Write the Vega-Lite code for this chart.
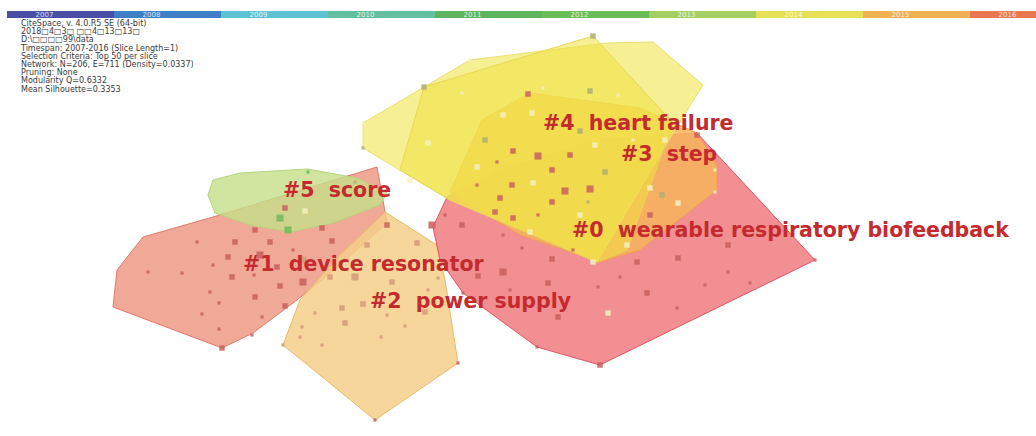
{
  "$schema": "https://vega.github.io/schema/vega-lite/v6.json",
  "width": 1036,
  "height": 436,
  "autosize": {"type": "none"},
  "padding": 0,
  "background": "white",
  "config": {"view": {"stroke": null}},
  "datasets": {
    "polys": [
      {"c": "c1", "i": 0, "x": 377, "y": 167}, {"c": "c1", "i": 1, "x": 387, "y": 223}, {"c": "c1", "i": 2, "x": 340, "y": 265}, {"c": "c1", "i": 3, "x": 297, "y": 300}, {"c": "c1", "i": 4, "x": 253, "y": 333}, {"c": "c1", "i": 5, "x": 222, "y": 348}, {"c": "c1", "i": 6, "x": 113, "y": 307}, {"c": "c1", "i": 7, "x": 117, "y": 270}, {"c": "c1", "i": 8, "x": 143, "y": 237}, {"c": "c1", "i": 9, "x": 213, "y": 217}, {"c": "c1", "i": 10, "x": 377, "y": 167},
      {"c": "c2", "i": 0, "x": 385, "y": 212}, {"c": "c2", "i": 1, "x": 437, "y": 245}, {"c": "c2", "i": 2, "x": 445, "y": 280}, {"c": "c2", "i": 3, "x": 458, "y": 363}, {"c": "c2", "i": 4, "x": 375, "y": 420}, {"c": "c2", "i": 5, "x": 283, "y": 345}, {"c": "c2", "i": 6, "x": 300, "y": 300}, {"c": "c2", "i": 7, "x": 340, "y": 255}, {"c": "c2", "i": 8, "x": 385, "y": 212},
      {"c": "c5", "i": 0, "x": 213, "y": 180}, {"c": "c5", "i": 1, "x": 240, "y": 173}, {"c": "c5", "i": 2, "x": 307, "y": 169}, {"c": "c5", "i": 3, "x": 357, "y": 178}, {"c": "c5", "i": 4, "x": 387, "y": 193}, {"c": "c5", "i": 5, "x": 380, "y": 205}, {"c": "c5", "i": 6, "x": 333, "y": 223}, {"c": "c5", "i": 7, "x": 290, "y": 232}, {"c": "c5", "i": 8, "x": 250, "y": 225}, {"c": "c5", "i": 9, "x": 215, "y": 213}, {"c": "c5", "i": 10, "x": 208, "y": 195}, {"c": "c5", "i": 11, "x": 213, "y": 180},
      {"c": "c0", "i": 0, "x": 447, "y": 197}, {"c": "c0", "i": 1, "x": 433, "y": 227}, {"c": "c0", "i": 2, "x": 440, "y": 260}, {"c": "c0", "i": 3, "x": 463, "y": 293}, {"c": "c0", "i": 4, "x": 537, "y": 347}, {"c": "c0", "i": 5, "x": 600, "y": 365}, {"c": "c0", "i": 6, "x": 815, "y": 260}, {"c": "c0", "i": 7, "x": 697, "y": 133}, {"c": "c0", "i": 8, "x": 600, "y": 140}, {"c": "c0", "i": 9, "x": 500, "y": 170}, {"c": "c0", "i": 10, "x": 447, "y": 197},
      {"c": "c3", "i": 0, "x": 530, "y": 93}, {"c": "c3", "i": 1, "x": 482, "y": 120}, {"c": "c3", "i": 2, "x": 450, "y": 192}, {"c": "c3", "i": 3, "x": 520, "y": 235}, {"c": "c3", "i": 4, "x": 600, "y": 262}, {"c": "c3", "i": 5, "x": 640, "y": 250}, {"c": "c3", "i": 6, "x": 717, "y": 190}, {"c": "c3", "i": 7, "x": 717, "y": 165}, {"c": "c3", "i": 8, "x": 697, "y": 133}, {"c": "c3", "i": 9, "x": 640, "y": 108}, {"c": "c3", "i": 10, "x": 530, "y": 93},
      {"c": "c4a", "i": 0, "x": 363, "y": 123}, {"c": "c4a", "i": 1, "x": 470, "y": 60}, {"c": "c4a", "i": 2, "x": 607, "y": 43}, {"c": "c4a", "i": 3, "x": 653, "y": 42}, {"c": "c4a", "i": 4, "x": 703, "y": 85}, {"c": "c4a", "i": 5, "x": 672, "y": 135}, {"c": "c4a", "i": 6, "x": 597, "y": 262}, {"c": "c4a", "i": 7, "x": 450, "y": 200}, {"c": "c4a", "i": 8, "x": 363, "y": 148}, {"c": "c4a", "i": 9, "x": 363, "y": 123},
      {"c": "c4b", "i": 0, "x": 424, "y": 87}, {"c": "c4b", "i": 1, "x": 593, "y": 36}, {"c": "c4b", "i": 2, "x": 673, "y": 123}, {"c": "c4b", "i": 3, "x": 627, "y": 250}, {"c": "c4b", "i": 4, "x": 597, "y": 262}, {"c": "c4b", "i": 5, "x": 450, "y": 200}, {"c": "c4b", "i": 6, "x": 400, "y": 170}, {"c": "c4b", "i": 7, "x": 424, "y": 87}
    ],
    "nodes": [
      {"x": 308, "y": 172, "yr": "2012", "s": 1}, {"x": 355, "y": 182, "yr": "2013", "s": 1}, {"x": 285, "y": 208, "yr": "2016", "s": 2}, {"x": 305, "y": 211, "yr": "2014", "s": 2}, {"x": 280, "y": 218, "yr": "2012", "s": 3}, {"x": 288, "y": 230, "yr": "2012", "s": 3},
      {"x": 255, "y": 230, "yr": "2016", "s": 2}, {"x": 235, "y": 242, "yr": "2016", "s": 2}, {"x": 270, "y": 242, "yr": "2016", "s": 2}, {"x": 197, "y": 242, "yr": "2016", "s": 1}, {"x": 322, "y": 228, "yr": "2016", "s": 2}, {"x": 332, "y": 241, "yr": "2016", "s": 2}, {"x": 260, "y": 255, "yr": "2016", "s": 3}, {"x": 293, "y": 250, "yr": "2016", "s": 1}, {"x": 228, "y": 257, "yr": "2016", "s": 2}, {"x": 213, "y": 265, "yr": "2016", "s": 1}, {"x": 277, "y": 267, "yr": "2016", "s": 2}, {"x": 254, "y": 275, "yr": "2016", "s": 1}, {"x": 232, "y": 277, "yr": "2016", "s": 2}, {"x": 303, "y": 260, "yr": "2015", "s": 3}, {"x": 303, "y": 282, "yr": "2016", "s": 3}, {"x": 280, "y": 286, "yr": "2016", "s": 2}, {"x": 148, "y": 272, "yr": "2016", "s": 1}, {"x": 182, "y": 273, "yr": "2016", "s": 1}, {"x": 210, "y": 292, "yr": "2016", "s": 1}, {"x": 255, "y": 297, "yr": "2016", "s": 2}, {"x": 219, "y": 303, "yr": "2016", "s": 1}, {"x": 285, "y": 306, "yr": "2016", "s": 2}, {"x": 202, "y": 314, "yr": "2016", "s": 1}, {"x": 262, "y": 317, "yr": "2016", "s": 1}, {"x": 219, "y": 329, "yr": "2016", "s": 1}, {"x": 222, "y": 348, "yr": "2016", "s": 2}, {"x": 252, "y": 335, "yr": "2016", "s": 1},
      {"x": 387, "y": 225, "yr": "2016", "s": 2}, {"x": 367, "y": 245, "yr": "2015", "s": 2}, {"x": 330, "y": 277, "yr": "2015", "s": 2}, {"x": 355, "y": 277, "yr": "2015", "s": 3}, {"x": 342, "y": 308, "yr": "2015", "s": 2}, {"x": 315, "y": 313, "yr": "2015", "s": 1}, {"x": 345, "y": 323, "yr": "2015", "s": 2}, {"x": 363, "y": 304, "yr": "2015", "s": 2}, {"x": 322, "y": 345, "yr": "2015", "s": 1}, {"x": 300, "y": 337, "yr": "2015", "s": 1}, {"x": 417, "y": 243, "yr": "2015", "s": 2}, {"x": 392, "y": 282, "yr": "2015", "s": 2}, {"x": 438, "y": 278, "yr": "2015", "s": 1}, {"x": 428, "y": 290, "yr": "2015", "s": 1}, {"x": 425, "y": 312, "yr": "2015", "s": 2}, {"x": 387, "y": 315, "yr": "2015", "s": 1}, {"x": 405, "y": 326, "yr": "2015", "s": 1}, {"x": 381, "y": 337, "yr": "2015", "s": 1}, {"x": 302, "y": 327, "yr": "2015", "s": 1}, {"x": 458, "y": 363, "yr": "2016", "s": 1}, {"x": 375, "y": 420, "yr": "2016", "s": 1}, {"x": 283, "y": 345, "yr": "2015", "s": 1},
      {"x": 432, "y": 225, "yr": "2016", "s": 3}, {"x": 462, "y": 225, "yr": "2016", "s": 2}, {"x": 445, "y": 215, "yr": "2016", "s": 1}, {"x": 503, "y": 235, "yr": "2016", "s": 1}, {"x": 522, "y": 248, "yr": "2016", "s": 1}, {"x": 573, "y": 250, "yr": "2016", "s": 1}, {"x": 552, "y": 259, "yr": "2016", "s": 2}, {"x": 478, "y": 276, "yr": "2016", "s": 2}, {"x": 503, "y": 272, "yr": "2016", "s": 3}, {"x": 548, "y": 283, "yr": "2016", "s": 2}, {"x": 510, "y": 290, "yr": "2016", "s": 1}, {"x": 558, "y": 317, "yr": "2016", "s": 2}, {"x": 598, "y": 287, "yr": "2016", "s": 1}, {"x": 620, "y": 277, "yr": "2016", "s": 1}, {"x": 637, "y": 262, "yr": "2016", "s": 2}, {"x": 647, "y": 293, "yr": "2016", "s": 2}, {"x": 678, "y": 258, "yr": "2016", "s": 2}, {"x": 677, "y": 308, "yr": "2016", "s": 1}, {"x": 705, "y": 285, "yr": "2016", "s": 1}, {"x": 728, "y": 245, "yr": "2016", "s": 2}, {"x": 728, "y": 272, "yr": "2016", "s": 1}, {"x": 750, "y": 283, "yr": "2016", "s": 1}, {"x": 608, "y": 313, "yr": "2014", "s": 2}, {"x": 537, "y": 347, "yr": "2016", "s": 1}, {"x": 600, "y": 365, "yr": "2016", "s": 2}, {"x": 815, "y": 260, "yr": "2016", "s": 1}, {"x": 463, "y": 293, "yr": "2016", "s": 1}, {"x": 593, "y": 262, "yr": "2014", "s": 2}, {"x": 627, "y": 245, "yr": "2014", "s": 2}, {"x": 530, "y": 232, "yr": "2014", "s": 2},
      {"x": 497, "y": 162, "yr": "2016", "s": 1}, {"x": 538, "y": 156, "yr": "2016", "s": 3}, {"x": 570, "y": 155, "yr": "2016", "s": 2}, {"x": 552, "y": 170, "yr": "2016", "s": 2}, {"x": 605, "y": 172, "yr": "2013", "s": 2}, {"x": 477, "y": 185, "yr": "2016", "s": 1}, {"x": 512, "y": 185, "yr": "2016", "s": 2}, {"x": 533, "y": 183, "yr": "2014", "s": 2}, {"x": 565, "y": 191, "yr": "2016", "s": 3}, {"x": 590, "y": 189, "yr": "2016", "s": 3}, {"x": 500, "y": 198, "yr": "2016", "s": 2}, {"x": 552, "y": 202, "yr": "2016", "s": 2}, {"x": 588, "y": 202, "yr": "2013", "s": 1}, {"x": 495, "y": 212, "yr": "2016", "s": 2}, {"x": 513, "y": 218, "yr": "2016", "s": 2}, {"x": 538, "y": 215, "yr": "2016", "s": 1}, {"x": 580, "y": 215, "yr": "2014", "s": 2}, {"x": 650, "y": 215, "yr": "2016", "s": 2}, {"x": 662, "y": 195, "yr": "2013", "s": 2}, {"x": 678, "y": 203, "yr": "2014", "s": 2}, {"x": 650, "y": 188, "yr": "2014", "s": 2}, {"x": 715, "y": 192, "yr": "2014", "s": 1}, {"x": 715, "y": 170, "yr": "2014", "s": 1},
      {"x": 593, "y": 36, "yr": "2013", "s": 2}, {"x": 470, "y": 60, "yr": "2014", "s": 1}, {"x": 424, "y": 87, "yr": "2013", "s": 2}, {"x": 363, "y": 123, "yr": "2014", "s": 1}, {"x": 363, "y": 148, "yr": "2013", "s": 1}, {"x": 528, "y": 94, "yr": "2016", "s": 2}, {"x": 590, "y": 91, "yr": "2013", "s": 2}, {"x": 618, "y": 95, "yr": "2014", "s": 1}, {"x": 462, "y": 93, "yr": "2014", "s": 1}, {"x": 543, "y": 88, "yr": "2014", "s": 1}, {"x": 503, "y": 115, "yr": "2014", "s": 2}, {"x": 532, "y": 113, "yr": "2014", "s": 2}, {"x": 580, "y": 131, "yr": "2013", "s": 2}, {"x": 485, "y": 140, "yr": "2013", "s": 2}, {"x": 513, "y": 151, "yr": "2016", "s": 2}, {"x": 595, "y": 145, "yr": "2014", "s": 2}, {"x": 477, "y": 167, "yr": "2014", "s": 2}, {"x": 428, "y": 143, "yr": "2014", "s": 2}, {"x": 633, "y": 140, "yr": "2014", "s": 1}, {"x": 665, "y": 140, "yr": "2014", "s": 2}, {"x": 697, "y": 135, "yr": "2016", "s": 2}, {"x": 410, "y": 180, "yr": "2014", "s": 2}, {"x": 693, "y": 95, "yr": "2014", "s": 1}
    ],
    "labels": [
      {"t": "#4\u00a0 heart failure", "x": 543, "y": 124},
      {"t": "#3\u00a0 step", "x": 621, "y": 155},
      {"t": "#0\u00a0 wearable respiratory biofeedback", "x": 572, "y": 231},
      {"t": "#5\u00a0 score", "x": 283, "y": 191},
      {"t": "#1\u00a0 device resonator", "x": 243, "y": 265},
      {"t": "#2\u00a0 power supply", "x": 370, "y": 302}
    ],
    "info": [
      {"t": "CiteSpace, v. 4.0.R5 SE (64-bit)\n2018□4□3□ □□4□13□13□\nD:\\□□□□99\\data\nTimespan: 2007-2016 (Slice Length=1)\nSelection Criteria: Top 50 per slice\nNetwork: N=206, E=711 (Density=0.0337)\nPruning: None\nModularity Q=0.6332\nMean Silhouette=0.3353", "x": 21, "y": 20}
    ],
    "years": [
      {"year": "2007"}, {"year": "2008"}, {"year": "2009"}, {"year": "2010"}, {"year": "2011"},
      {"year": "2012"}, {"year": "2013"}, {"year": "2014"}, {"year": "2015"}, {"year": "2016"}
    ]
  },
  "layer": [
    {
      "encoding": {
        "x": {"field": "x", "type": "quantitative", "scale": {"domain": [0, 1036], "nice": false, "zero": false}, "axis": null},
        "y": {"field": "y", "type": "quantitative", "scale": {"domain": [0, 436], "nice": false, "zero": false, "reverse": true}, "axis": null}
      },
      "layer": [
        {"data": {"name": "polys"}, "transform": [{"filter": "datum.c === 'c1'"}], "mark": {"type": "line", "fill": "#f0a08c", "fillOpacity": 0.9, "stroke": "#e07a68", "strokeWidth": 1}, "encoding": {"order": {"field": "i", "type": "quantitative"}}},
        {"data": {"name": "polys"}, "transform": [{"filter": "datum.c === 'c2'"}], "mark": {"type": "line", "fill": "#f5cf88", "fillOpacity": 0.85, "stroke": "#e8bb6a", "strokeWidth": 1}, "encoding": {"order": {"field": "i", "type": "quantitative"}}},
        {"data": {"name": "polys"}, "transform": [{"filter": "datum.c === 'c5'"}], "mark": {"type": "line", "fill": "#c5df88", "fillOpacity": 0.8, "stroke": "#b4d47a", "strokeWidth": 1}, "encoding": {"order": {"field": "i", "type": "quantitative"}}},
        {"data": {"name": "polys"}, "transform": [{"filter": "datum.c === 'c0'"}], "mark": {"type": "line", "fill": "#ee7b80", "fillOpacity": 0.85, "stroke": "#e05565", "strokeWidth": 1}, "encoding": {"order": {"field": "i", "type": "quantitative"}}},
        {"data": {"name": "polys"}, "transform": [{"filter": "datum.c === 'c3'"}], "mark": {"type": "line", "fill": "#f6b45a", "fillOpacity": 0.85, "stroke": "#f0a050", "strokeWidth": 1}, "encoding": {"order": {"field": "i", "type": "quantitative"}}},
        {"data": {"name": "polys"}, "transform": [{"filter": "datum.c === 'c4a'"}], "mark": {"type": "line", "fill": "#f1e65a", "fillOpacity": 0.65, "stroke": "#e8e070", "strokeWidth": 1}, "encoding": {"order": {"field": "i", "type": "quantitative"}}},
        {"data": {"name": "polys"}, "transform": [{"filter": "datum.c === 'c4b'"}], "mark": {"type": "line", "fill": "#f0e040", "fillOpacity": 0.55, "stroke": "#e8d850", "strokeWidth": 1}, "encoding": {"order": {"field": "i", "type": "quantitative"}}},
        {
          "data": {"name": "nodes"},
          "mark": {"type": "point", "shape": "square", "filled": true, "opacity": 0.85},
          "encoding": {
            "color": {"field": "yr", "type": "nominal", "legend": null, "scale": {"domain": ["2012", "2013", "2014", "2015", "2016"], "range": ["#72b85c", "#aeae72", "#f6f0c0", "#d49a7a", "#c9605e"]}},
            "size": {"field": "s", "type": "quantitative", "legend": null, "scale": {"domain": [1, 3], "range": [10, 50]}}
          }
        },
        {
          "data": {"name": "labels"},
          "mark": {"type": "text", "align": "left", "baseline": "middle", "font": "DejaVu Sans", "fontWeight": "bold", "fontSize": 20.5, "color": "#c42a2e"},
          "encoding": {"text": {"field": "t", "type": "nominal"}}
        },
        {
          "data": {"name": "info"},
          "mark": {"type": "text", "align": "left", "baseline": "top", "font": "DejaVu Sans", "fontSize": 8, "lineHeight": 8.2, "lineBreak": "\n", "color": "#3a3a3a"},
          "encoding": {"text": {"field": "t", "type": "nominal"}}
        }
      ]
    },
    {
      "data": {"name": "years"},
      "encoding": {
        "y": {"datum": 11, "type": "quantitative", "scale": {"domain": [0, 436], "nice": false, "zero": false, "reverse": true}, "axis": null}
      },
      "layer": [
        {
          "mark": {"type": "rect", "clip": true},
          "encoding": {
            "x": {"field": "year", "type": "ordinal", "axis": null, "scale": {"range": [7, 1077], "paddingInner": 0, "paddingOuter": 0}},
            "y2": {"datum": 18},
            "color": {"field": "year", "type": "nominal", "legend": null, "scale": {"domain": ["2007", "2008", "2009", "2010", "2011", "2012", "2013", "2014", "2015", "2016"], "range": ["#4a4fa6", "#3f7fc6", "#5cc3d2", "#62c0a0", "#5db65e", "#6bbd58", "#a5cf62", "#e6e157", "#f0b054", "#e9774f"]}}
          }
        },
        {
          "mark": {"type": "text", "align": "center", "baseline": "middle", "font": "DejaVu Sans", "fontSize": 7, "color": "#ffffff", "opacity": 0.8},
          "encoding": {
            "x": {"field": "year", "type": "ordinal", "axis": null, "bandPosition": 0.35},
            "y": {"datum": 14.5},
            "text": {"field": "year", "type": "nominal"}
          }
        }
      ]
    }
  ],
  "resolve": {"scale": {"x": "independent", "color": "independent"}}
}
